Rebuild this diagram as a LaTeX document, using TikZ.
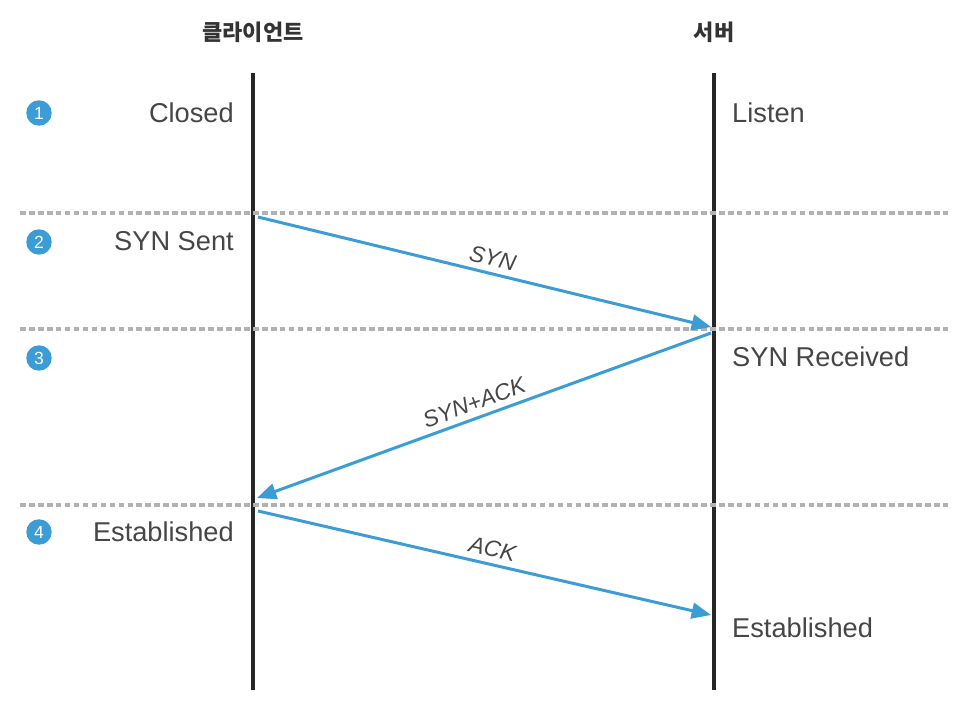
\documentclass[tikz,border=0pt]{standalone}
\usepackage{fontspec}
\setmainfont{Liberation Sans}
\newfontfamily\krfont{Noto Sans CJK KR}
\usepackage{xcolor}
\usetikzlibrary{arrows.meta}
\definecolor{msgblue}{RGB}{59,156,214}
\definecolor{labelgray}{RGB}{70,70,70}

\begin{document}
\begin{tikzpicture}[x=0.02cm, y=-0.02cm,
    lifeline/.style={line width=2.8pt, black!85},
    phase/.style={line width=2pt, gray!60, dash pattern=on 3.2pt off 1.9pt},
    msg/.style={line width=1.7pt, msgblue, -{Triangle[length=11pt, width=9pt]}},
    msglabel/.style={font=\fontsize{13}{15}\selectfont\itshape, labelgray},
    state/.style={font=\fontsize{15.5}{18}\selectfont, labelgray},
    head/.style={font=\krfont\bfseries\fontsize{12.5}{15}\selectfont, black!80},
    stepnum/.style={circle, fill=msgblue, inner sep=0pt, minimum size=14.5pt,
        text=white, font=\fontsize{10}{11}\selectfont}]
        \useasboundingbox (0,0) rectangle (964,714);

        % Headings
        \node[head] (client) at (253,32) {클라이언트};
        \node[head] (server) at (714,32) {서버};

        % Lifelines
        \coordinate (ctop) at (253,73);
        \coordinate (cbot) at (253,690);
        \coordinate (stop) at (714,73);
        \coordinate (sbot) at (714,690);
        \draw[lifeline] (ctop) -- (cbot);
        \draw[lifeline] (stop) -- (sbot);

        % Phases
        \foreach \y in {213,329,505} {
            \draw[phase] (20,\y) -- (948,\y);
        }

        % Steps
        \foreach \n/\y in {1/113,2/242,3/358,4/532} {
            \node[stepnum] (step\n) at (39,\y) {\n};
        }

        % States
        \node[state, left] (closed) at (240,113) {Closed};
        \node[state, left] (synsent) at (240,241) {SYN Sent};
        \node[state, left] (cest) at (240,532) {Established};
        \node[state, right] (listen) at (726,113) {Listen};
        \node[state, right] (synrcvd) at (726,357) {SYN Received};
        \node[state, right] (sest) at (726,628) {Established};

        % Messages
        \coordinate (c1) at (258,217);
        \coordinate (s1) at (711,327);
        \coordinate (s2) at (711,333);
        \coordinate (c2) at (257,498);
        \coordinate (c3) at (258,511);
        \coordinate (s3) at (711,615);
        \draw[msg] (c1) -- node[msglabel, above, sloped, pos=0.51] {SYN} (s1);
        \draw[msg] (s2) -- node[msglabel, above, sloped, pos=0.51] {SYN+ACK} (c2);
        \draw[msg] (c3) -- node[msglabel, above, sloped, pos=0.51] {ACK} (s3);
    \end{tikzpicture}
\end{document}
